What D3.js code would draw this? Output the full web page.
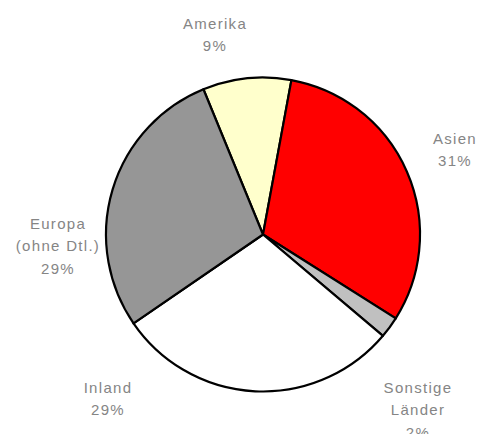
<!DOCTYPE html>
<html>
<head>
<meta charset="utf-8">
<script src="https://cdn.jsdelivr.net/npm/d3@7"></script>
<style>
  body { margin: 0; background: #fff; }
</style>
</head>
<body>
<svg id="chart"></svg>
<script>
// Data (clockwise starting at Amerika)
const regions = ["Amerika", "Asien", "Sonstige Länder", "Inland", "Europa (ohne Dtl.)"];
const shares = [9.1, 31.1, 2.2, 29.3, 28.4];
const percentLabels = ["9%", "31%", "2%", "29%", "29%"];
const labelLines = [["Amerika"], ["Asien"], ["Sonstige", "Länder"], ["Inland"], ["Europa", "(ohne Dtl.)"]];
const sliceColors = ["#FFFFCC", "#FF0000", "#C0C0C0", "#FFFFFF", "#969696"];

const width = 479, height = 434;
const cx = 263, cy = 234.5, radius = 157;

const svg = d3.select("#chart")
  .attr("width", width)
  .attr("height", height);

const g = svg.append("g")
  .attr("transform", `translate(${cx},${cy})`);

const data = regions.map((r, i) => ({
  region: r, value: shares[i], pct: percentLabels[i], lines: labelLines[i], color: sliceColors[i]
}));

// Pie starts a bit left of 12 o'clock, like the original
const start = -22.3 * Math.PI / 180;
const pie = d3.pie()
  .sort(null)
  .value(d => d.value)
  .startAngle(start)
  .endAngle(start + 2 * Math.PI);

const arc = d3.arc()
  .innerRadius(0)
  .outerRadius(radius);

g.selectAll("path")
  .data(pie(data))
  .enter()
  .append("path")
  .attr("d", arc)
  .attr("fill", d => d.data.color)
  .attr("stroke", "#000")
  .attr("stroke-width", 2.2)
  .attr("stroke-linejoin", "round");

// Label anchors (center x, first baseline) relative to pie center
const labelOffsets = [
  [-48, -206],
  [192, -91],
  [155, 158],
  [-155, 158],
  [-205, -6]
];
const lineHeight = 22.5;

const labels = svg.append("g")
  .attr("font-family", "'Liberation Sans', Arial, sans-serif")
  .attr("font-size", "15px")
  .attr("fill", "#858585")
  .attr("letter-spacing", "1.3px")
  .attr("text-anchor", "middle");

data.forEach((d, i) => {
  const [ox, oy] = labelOffsets[i];
  const t = labels.append("text")
    .attr("x", cx + ox)
    .attr("y", cy + oy);
  d.lines.concat([d.pct]).forEach((line, j) => {
    t.append("tspan")
      .attr("x", cx + ox)
      .attr("dy", j === 0 ? 0 : lineHeight)
      .text(line);
  });
});
</script>
</body>
</html>
